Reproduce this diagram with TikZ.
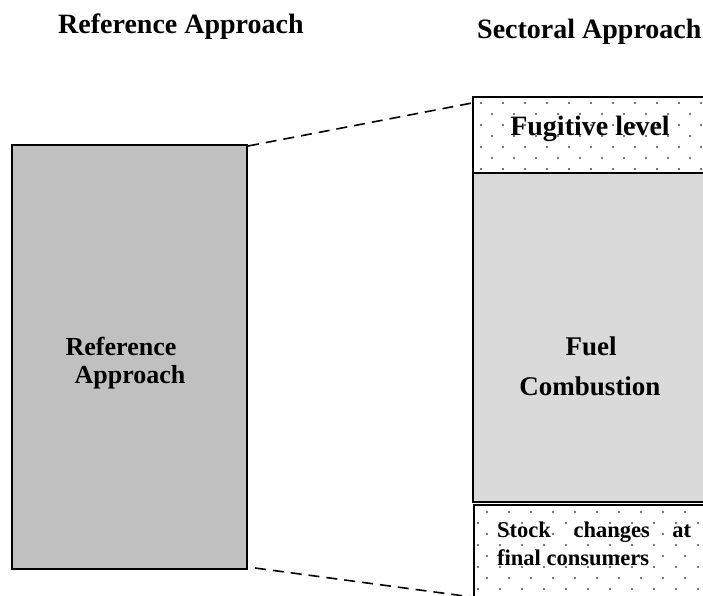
\documentclass[tikz,border=0pt]{standalone}
\usepackage{fontspec}
\setmainfont{Liberation Serif}
\begin{document}
\begin{tikzpicture}[x=1pt,y=-1pt,
  title/.style={font=\bfseries\fontsize{28}{32}\selectfont, anchor=base west, inner sep=0pt},
  big/.style={font=\bfseries\fontsize{26}{30}\selectfont, anchor=base, inner sep=0pt},
  small/.style={font=\bfseries\fontsize{22.5}{28}\selectfont, anchor=base west, inner sep=0pt},
  dotbox/.style={draw=black, line width=1.6pt, fill=white},
  dashline/.style={dashed, dash pattern=on 11pt off 7pt, line width=1.6pt}]
\useasboundingbox (0,0) rectangle (703,595);
\clip (0,0) rectangle (703,595);
% titles
\node[title] (t1) at (58,33) {Reference Approach};
\node[title] (t2) at (477,38) {Sectoral Approach};
% left box
\draw[fill={rgb,255:red,192;green,192;blue,192}, line width=1.3pt] (12,145) rectangle (247,569);
\coordinate (LT) at (248,146);
\coordinate (LB) at (255,568);
\node[big] (ra1) at (121,355) {Reference};
\node[big] (ra2) at (130,383) {Approach};
% fugitive box
\draw[dotbox] (473,97) rectangle (720,173);
\begin{scope}
\clip (473,97) rectangle (720,173);
\foreach \r in {0,...,7} {
  \pgfmathsetmacro{\yy}{103+11*\r}
  \pgfmathsetmacro{\xo}{mod(\r,2)==0 ? 481 : 492}
  \foreach \c in {0,...,11} {
    \fill[gray!60!black] (\xo+22*\c,\yy) circle (1.2pt);
  }
}
\end{scope}
\draw[line width=1.6pt] (473,97) rectangle (720,173);
\node[big, font=\bfseries\fontsize{28}{30}\selectfont] (fl) at (590,135) {Fugitive level};
% fuel combustion
\draw[fill={rgb,255:red,218;green,218;blue,218}, line width=1.6pt] (473,173) rectangle (720,502);
\node[big, font=\bfseries\fontsize{27}{30}\selectfont] (fc1) at (591,355) {Fuel};
\node[big, font=\bfseries\fontsize{27}{30}\selectfont] (fc2) at (590,395) {Combustion};
% stock box
\draw[dotbox] (474,505) rectangle (720,620);
\begin{scope}
\clip (474,505) rectangle (720,620);
\foreach \r in {0,...,9} {
  \pgfmathsetmacro{\yy}{512+11*\r}
  \pgfmathsetmacro{\xo}{mod(\r,2)==0 ? 487 : 478}
  \foreach \c in {0,...,11} {
    \fill[gray!60!black] (\xo+22*\c,\yy) circle (1.2pt);
  }
}
\end{scope}
\draw[line width=1.6pt] (474,505) rectangle (720,620);
\node[small] (sc1) at (497,537) {\makebox[194pt][s]{Stock changes at}};
\node[small] (sc2) at (497,565) {final consumers};
\coordinate (RT) at (472,103);
\coordinate (RB) at (472,597);
\draw[dashline] (LT) -- (RT);
\draw[dashline] (LB) -- (RB);
\end{tikzpicture}
\end{document}
